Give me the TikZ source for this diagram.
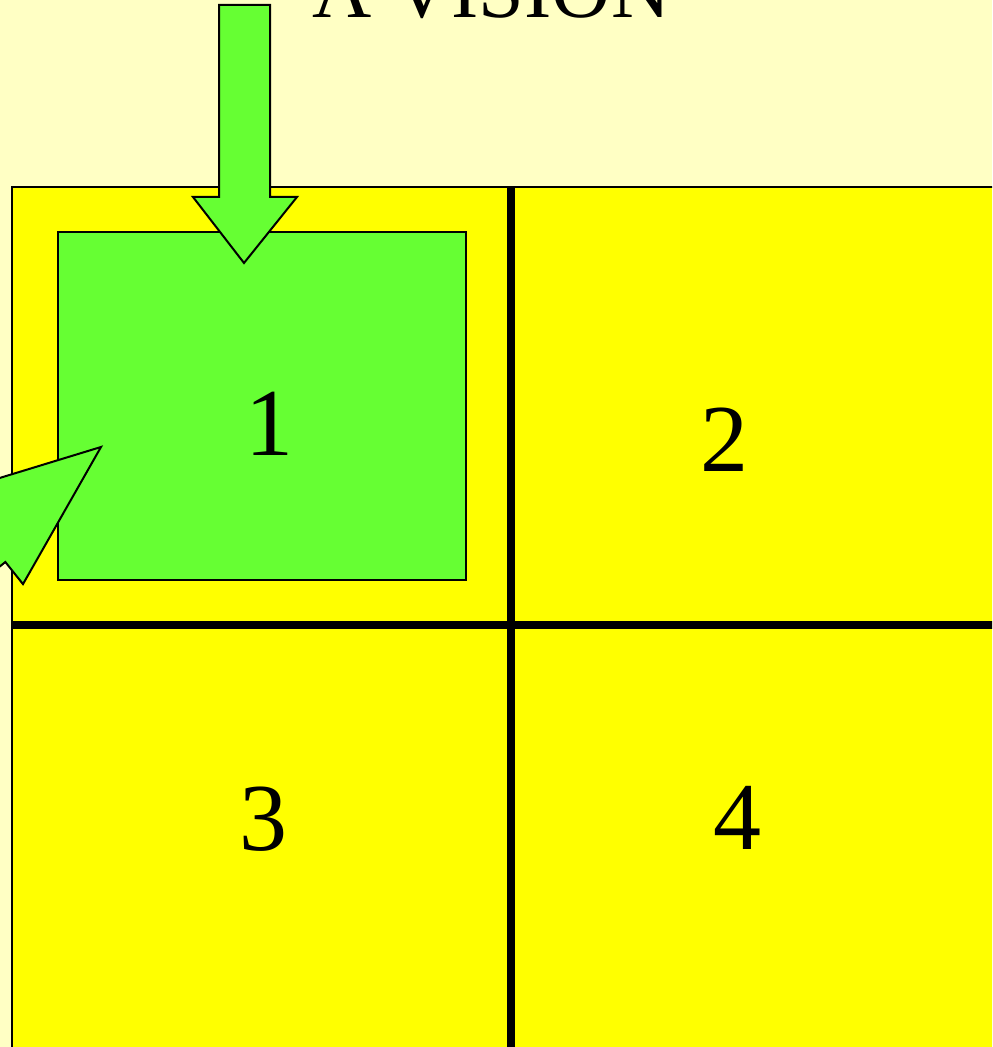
\documentclass[tikz,border=0pt]{standalone}
\usepackage{fontspec}
\setmainfont{Liberation Serif}
\definecolor{paleyellow}{HTML}{FFFFC4}
\definecolor{boxyellow}{HTML}{FFFF00}
\definecolor{boxgreen}{HTML}{66FF33}
\begin{document}
\begin{tikzpicture}[x=0.5pt,y=-0.5pt,
  thinframe/.style={draw=black,line width=0.75pt},
  divider/.style={draw=black,line width=4pt},
  blockarrow/.style={fill=boxgreen,draw=black,line width=1pt,line join=miter},
  digit/.style={font=\fontsize{48}{50}\selectfont,anchor=base,inner sep=0pt},
  titletext/.style={font=\fontsize{41}{44}\selectfont,anchor=base,inner sep=0pt}]
\useasboundingbox (0,0) rectangle (992,1047);
\clip (0,0) rectangle (992,1047);
\fill[paleyellow] (0,0) rectangle (992,1047);
% title
\node[titletext] (title) at (491.5,18) {A VISION};
% big yellow square
\filldraw[thinframe,fill=boxyellow] (12,187) rectangle (1010,1070);
\draw[divider] (511,187) -- (511,1070);
\draw[divider] (12,625) -- (1010,625);
% green square
\filldraw[thinframe,fill=boxgreen] (58,232) rectangle (466,580);
% down arrow
\filldraw[blockarrow] (219,5) -- (270,5) -- (270,197) -- (297,197) -- (244,263) -- (193,197) -- (219,197) -- cycle;
% left arrow (pointing up-right)
\filldraw[blockarrow] (101,447) -- (23,584.1) -- (5.35,562) -- (-229,749.5) -- (-267,702.7) -- (-32.9,515.2) -- (-49.8,493.1) -- cycle;
% numbers
\node[digit] (n1) at (269,455) {1};
\node[digit] (n2) at (724,471) {2};
\node[digit] (n3) at (263,850) {3};
\node[digit] (n4) at (737,849) {4};
\end{tikzpicture}
\end{document}
